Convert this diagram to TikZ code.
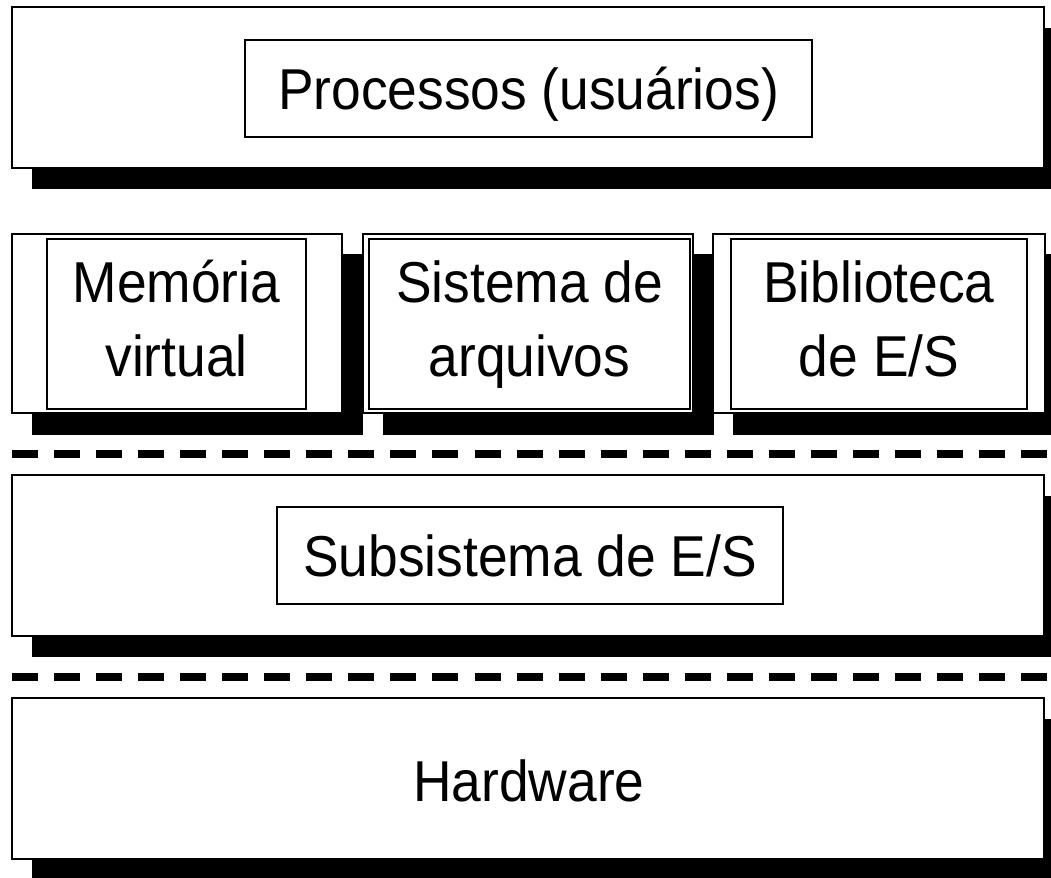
\documentclass[tikz,border=0pt]{standalone}
\usepackage{fontspec}
\setmainfont[FakeStretch=0.925]{Liberation Sans}
\usepackage{tikz}
\usetikzlibrary{positioning}

\tikzset{
  camada/.style={fill=white, draw=black, line width=1.4pt},
  sombra/.style={fill=black},
  rotulo/.style={draw=black, fill=white, line width=1.4pt, inner sep=0pt, align=center,
    font=\fontsize{41pt}{52.6pt}\selectfont},
  umalinha/.style={text height=29.4pt, text depth=0pt},
  divisa/.style={black, line width=5.7pt, dash pattern=on 18.5pt off 11.4pt}
}

\begin{document}
\begin{tikzpicture}[x=0.025cm, y=-0.025cm]
  \useasboundingbox (0,0) rectangle (1051,878);

  % processos
  \fill[sombra] (32,28) rectangle (1064,189);
  \filldraw[camada] (12,7) rectangle (1044,168);
  \node[rotulo, umalinha, minimum width=14.175cm, minimum height=2.425cm] (proc) at (528.5,88.5) {Processos (usuários)};

  % memoria, arquivos, biblioteca
  \fill[sombra] (32,254) rectangle (363,435);
  \filldraw[camada] (12,234) rectangle (342,413);
  \node[rotulo, minimum width=6.475cm, minimum height=4.25cm] (memvirt) at (176.5,324) {\vphantom{ó}Memória\\virtual\vphantom{q}};
  \fill[sombra] (383,254) rectangle (714,435);
  \filldraw[camada] (363,234) rectangle (693,413);
  \node[rotulo, minimum width=8.025cm, minimum height=4.25cm] (sisarq) at (529.5,324) {\vphantom{ó}Sistema de\\arquivos\vphantom{q}};
  \fill[sombra] (733,254) rectangle (1065,435);
  \filldraw[camada] (713,234) rectangle (1045,413);
  \node[rotulo, minimum width=7.4cm, minimum height=4.25cm] (bibes) at (879,324) {\vphantom{ó}Biblioteca\\de E/S\vphantom{q}};

  \draw[divisa] (12,454) -- (1051,454);

  % subsistema de E/S
  \fill[sombra] (32,496) rectangle (1064,657);
  \filldraw[camada] (12,475) rectangle (1044,636);
  \node[rotulo, umalinha, minimum width=12.65cm, minimum height=2.425cm] (subes) at (530,555.5) {Subsistema de E/S};

  \draw[divisa] (12,677) -- (1051,677);

  % hardware
  \fill[sombra] (32,719) rectangle (1064,880);
  \filldraw[camada] (12,698) rectangle (1044,859);
  \node[rotulo, umalinha, draw=none, fill=none] (hw) at (529,781) {Hardware};
\end{tikzpicture}
\end{document}
